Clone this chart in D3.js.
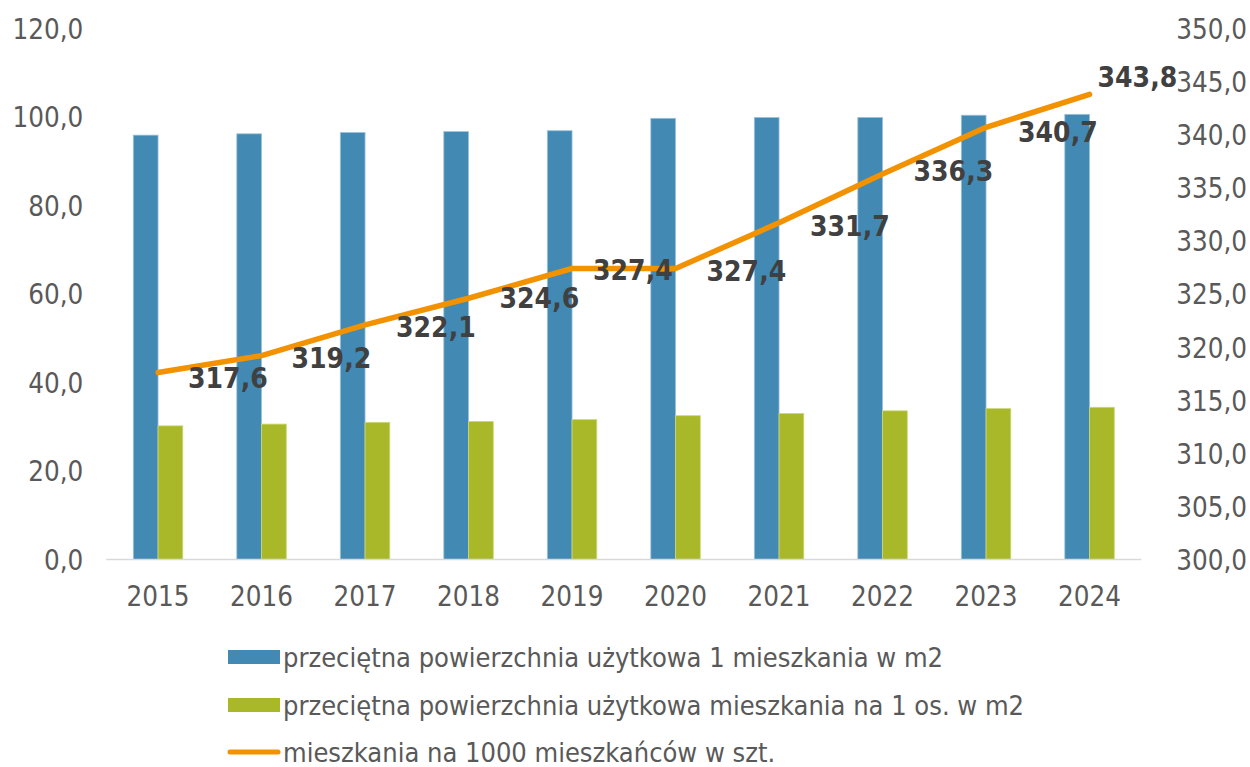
<!DOCTYPE html>
<html>
<head>
<meta charset="utf-8">
<script src="https://cdn.jsdelivr.net/npm/d3@7"></script>
<style>
  html, body { margin: 0; padding: 0; background: #fff; }
  svg { display: block; }
  text { font-family: "DejaVu Sans Condensed", "DejaVu Sans", sans-serif; }
</style>
</head>
<body>
<svg id="chart" width="1250" height="767"></svg>
<script>
const categories = ["2015","2016","2017","2018","2019","2020","2021","2022","2023","2024"];
const avgArea = [95.9, 96.2, 96.5, 96.7, 96.9, 99.7, 99.9, 99.9, 100.4, 100.6];
const areaPerPerson = [30.2, 30.6, 31.0, 31.2, 31.6, 32.5, 33.0, 33.6, 34.1, 34.4];
const dwellingsPer1000 = [317.6, 319.2, 322.1, 324.6, 327.4, 327.4, 331.7, 336.3, 340.7, 343.8];
const leftTicks = [0, 20, 40, 60, 80, 100, 120];
const rightTicks = [300, 305, 310, 315, 320, 325, 330, 335, 340, 345, 350];
const seriesNames = [
  "przeciętna powierzchnia użytkowa 1 mieszkania w m2",
  "przeciętna powierzchnia użytkowa mieszkania na 1 os. w m2",
  "mieszkania na 1000 mieszkańców w szt."
];
// label placement offsets (layout only), relative to point
const labelDx = [30, 30, 31, 31, 21, 31, 31, 31, 32, 8];
const labelDy = [5, 2, 2, 0, 1, 2, 3, -3, 5, -17];

const colors = { blue: "#4289B4", green: "#A8B828", orange: "#F39200", tick: "#595959", label: "#404040", axis: "#D9D9D9" };
const fmt = v => d3.format(".1f")(v).replace(".", ",");
const FONT = '"DejaVu Sans Condensed", "DejaVu Sans", sans-serif';

const svg = d3.select("#chart");
const plot = { left: 106.3, right: 1141.3, top: 28.5, bottom: 559.5 };

const x = d3.scaleBand().domain(categories).range([plot.left, plot.right]).padding(0);
const yL = d3.scaleLinear().domain([0, 120]).range([plot.bottom, plot.top]);
const yR = d3.scaleLinear().domain([300, 350]).range([plot.bottom, plot.top]);
const barW = x.bandwidth() * 0.239;
const cx = c => x(c) + x.bandwidth() / 2;

// bars
svg.append("g").selectAll("rect").data(categories).join("rect")
  .attr("x", c => cx(c) - barW).attr("width", barW)
  .attr("y", (c, i) => yL(avgArea[i])).attr("height", (c, i) => yL(0) - yL(avgArea[i]))
  .attr("fill", colors.blue).attr("stroke", "#9CC3DB").attr("stroke-width", 0.8);
svg.append("g").selectAll("rect").data(categories).join("rect")
  .attr("x", c => cx(c)).attr("width", barW)
  .attr("y", (c, i) => yL(areaPerPerson[i])).attr("height", (c, i) => yL(0) - yL(areaPerPerson[i]))
  .attr("fill", colors.green).attr("stroke", "#CCD878").attr("stroke-width", 0.8);

// x axis line
svg.append("line").attr("x1", plot.left).attr("x2", plot.right)
  .attr("y1", plot.bottom).attr("y2", plot.bottom)
  .attr("stroke", colors.axis).attr("stroke-width", 1.5);

// left axis
const axL = svg.append("g").attr("transform", `translate(${plot.left},0)`)
  .call(d3.axisLeft(yL).tickValues(leftTicks).tickFormat(fmt).tickSize(0).tickPadding(23));
axL.select(".domain").remove();
axL.selectAll("text").attr("fill", colors.tick).attr("font-size", 27.5).attr("dy", "0.36em")
  .style("font-family", FONT);

// right axis
const axR = svg.append("g").attr("transform", `translate(${plot.right},0)`)
  .call(d3.axisRight(yR).tickValues(rightTicks).tickFormat(fmt).tickSize(0).tickPadding(35));
axR.select(".domain").remove();
axR.selectAll("text").attr("fill", colors.tick).attr("font-size", 27.5).attr("dy", "0.36em")
  .style("font-family", FONT);

// bottom axis labels
const axB = svg.append("g").attr("transform", `translate(0,${plot.bottom})`)
  .call(d3.axisBottom(x).tickSize(0).tickPadding(27));
axB.select(".domain").remove();
axB.selectAll("text").attr("fill", colors.tick).attr("font-size", 27.5)
  .style("font-family", FONT);

// line
const line = d3.line().x((d, i) => cx(categories[i])).y(d => yR(d));
svg.append("path").datum(dwellingsPer1000).attr("d", line)
  .attr("fill", "none").attr("stroke", colors.orange).attr("stroke-width", 5.5)
  .attr("stroke-linejoin", "round").attr("stroke-linecap", "round");

// data labels
svg.append("g").selectAll("text").data(dwellingsPer1000).join("text")
  .attr("x", (d, i) => cx(categories[i]) + labelDx[i])
  .attr("y", (d, i) => yR(d) + labelDy[i])
  .attr("dy", "0.36em")
  .attr("fill", colors.label).attr("font-size", 28).attr("font-weight", "bold")
  .text(d => fmt(d));

// legend
const legend = svg.append("g");
const rows = [
  { name: seriesNames[0], type: "rect", color: colors.blue, y: 657 },
  { name: seriesNames[1], type: "rect", color: colors.green, y: 705 },
  { name: seriesNames[2], type: "line", color: colors.orange, y: 752 }
];
rows.forEach(r => {
  if (r.type === "rect") {
    legend.append("rect").attr("x", 228).attr("y", r.y - 7).attr("width", 52).attr("height", 14).attr("fill", r.color);
  } else {
    legend.append("line").attr("x1", 230).attr("x2", 278).attr("y1", r.y).attr("y2", r.y)
      .attr("stroke", r.color).attr("stroke-width", 5).attr("stroke-linecap", "round");
  }
  legend.append("text").attr("x", 283).attr("y", r.y).attr("dy", "0.36em")
    .attr("fill", colors.tick).attr("font-size", 27).text(r.name);
});
</script>
</body>
</html>
